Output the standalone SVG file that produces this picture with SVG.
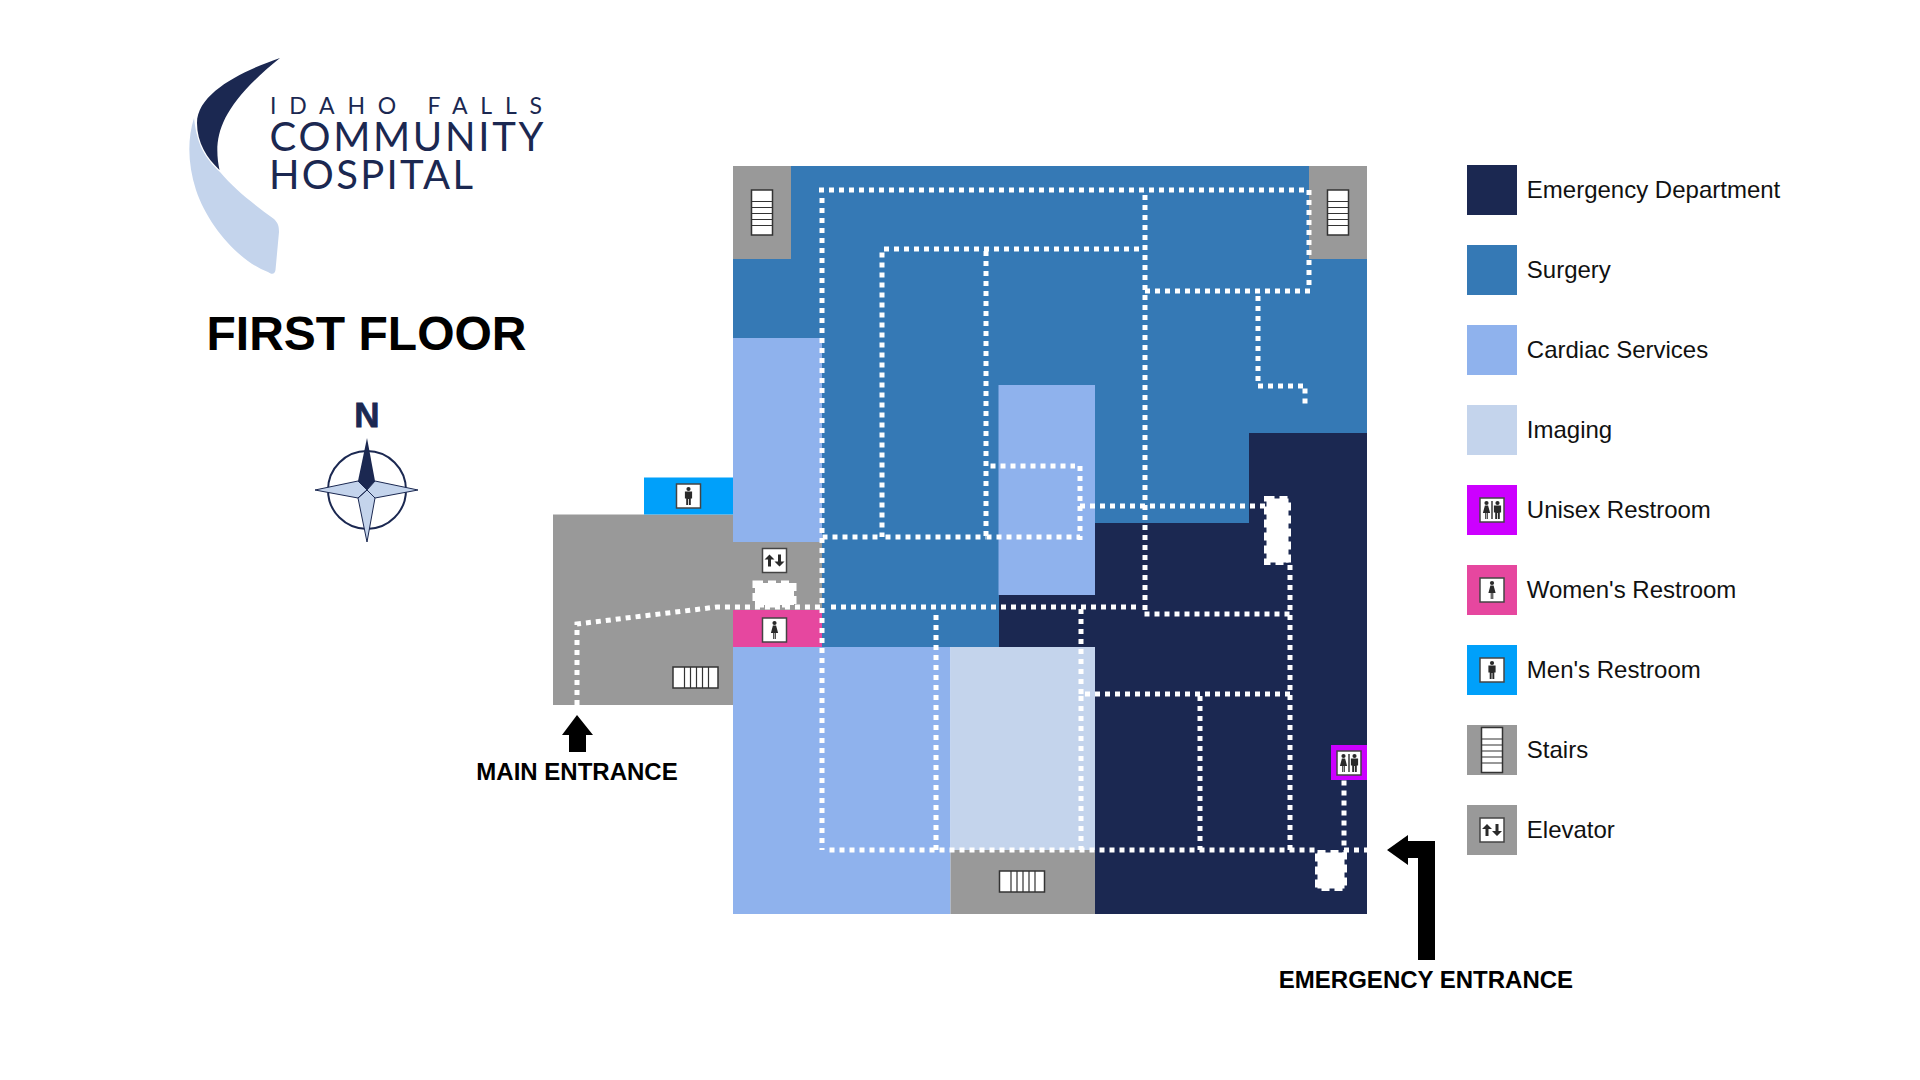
<svg xmlns="http://www.w3.org/2000/svg" xmlns:xlink="http://www.w3.org/1999/xlink" width="1920" height="1080" viewBox="0 0 1920 1080">
<style>
text{font-family:"Liberation Sans",Arial,sans-serif}
.ed{fill:#1b2851}.su{fill:#3579b5}.ca{fill:#8fb2ed}.im{fill:#c4d4ec}.un{fill:#cc00ff}.wo{fill:#e6479f}.me{fill:#00a0fa}.gr{fill:#999999}
.fr{fill:#fff;stroke:#444;stroke-width:1.5}
.st{fill:none;stroke:#333;stroke-width:1.2}
.fig{fill:#2a2a2a}
.dot{fill:none;stroke:#fff;stroke-width:5;stroke-dasharray:5 5}
.box{fill:#fff;stroke:#fff;stroke-width:5;stroke-dasharray:8 5}
.lab{font-size:24px;fill:#111}
.ent{font-size:24px;font-weight:700;fill:#000;text-anchor:middle}
.logo{font-family:Lato,"Liberation Sans",sans-serif;fill:#1b2851}
.star{fill:#c4d4ec;stroke:#1b2851;stroke-width:1}
</style>
<defs>
<g id="man"><circle cx="0" cy="-7" r="2.1"/><path d="M-3.6-4.4H3.6V2.6H2.3V9H.4V3H-.4V9H-2.3V2.6H-3.6Z"/></g>
<g id="woman"><circle cx="0" cy="-7" r="2.1"/><path d="M-1.6-4.4H1.6L3.6 3H1.3V9H.3V3H-.3V9H-1.3V3H-3.6Z"/></g>
<g id="i-man"><rect class="fr" x="-12" y="-12" width="24" height="24"/><use xlink:href="#man" href="#man" class="fig"/></g>
<g id="i-woman"><rect class="fr" x="-12" y="-12" width="24" height="24"/><use xlink:href="#woman" href="#woman" class="fig"/></g>
<g id="i-unisex"><rect class="fr" x="-12" y="-12" width="24" height="24"/><use xlink:href="#woman" href="#woman" x="-5.500" class="fig"/><use xlink:href="#man" href="#man" x="5.500" class="fig"/><rect x="-.7" y="-9" width="1.400" height="18" class="fig"/></g>
<g id="i-elev"><rect class="fr" x="-12" y="-12" width="24" height="24"/><path class="fig" d="M-5-6L-10-1H-6.500V6H-3.500V-1H0ZM5 6L0 1H3.500V-6H6.500V1H10Z"/></g>
<g id="i-stv"><rect x="-10.500" y="-22.500" width="21" height="45" fill="#fff" stroke="#333" stroke-width="1.500"/><path class="st" d="M-10.500-11H10.500M-10.500-5H10.500M-10.500 1H10.500M-10.500 7H10.500M-10.500 13H10.500"/></g>
<g id="i-sth"><rect x="-22.500" y="-10.500" width="45" height="21" fill="#fff" stroke="#333" stroke-width="1.500"/><path class="st" d="M-11-10.500V10.500M-5-10.500V10.500M1-10.500V10.500M7-10.500V10.500M13-10.500V10.500"/></g>
</defs>
<rect width="1920" height="1080" fill="#fff"/>

<g id="logo">
<path fill="#c4d4ec" d="M194 118C187 140 188 165 196 190C208 226 240 262 268 272C272 275 275 274 275.500 270L279 232C279 226 278 223 274 219C255 205 235 190 220 172C205 158 197 145 194 118Z"/>
<path fill="#1b2851" d="M280 58C245 70 197 92 197 123C197 143 207 158 219.500 170C213 138 218 108 280 58Z"/>
<text class="logo" x="270" y="113.500" font-size="23" textLength="272" lengthAdjust="spacing">IDAHO FALLS</text>
<text class="logo" x="269.500" y="151" font-size="40" textLength="274" lengthAdjust="spacing">COMMUNITY</text>
<text class="logo" x="269" y="189" font-size="40" textLength="204" lengthAdjust="spacing">HOSPITAL</text>
</g>

<text x="206.500" y="350" font-size="48" font-weight="700" fill="#000">FIRST FLOOR</text>

<g id="compass">
<text x="367" y="427" font-size="35" font-weight="700" text-anchor="middle" fill="#1b2851" stroke="#1b2851" stroke-width=".8">N</text>
<circle cx="367" cy="490" r="39" fill="#fff" stroke="#1b2851" stroke-width="2"/>
<path class="star" d="M315 490L358 481L367 490L358 498ZM418 490L375 481L367 490L375 498ZM367 542L358 498L367 490L375 498Z"/>
<path fill="#1b2851" d="M367 438L375 481L367 490L358 481Z"/>
</g>

<g id="floor-plan">
<rect id="surgery" class="su" x="733" y="166" width="634" height="481"/>
<path id="emergency" class="ed" d="M1249 433H1367V914H1095V647H999V595H1095V523H1249Z"/>
<rect id="stairs-nw" class="gr" x="733" y="166" width="58" height="93"/>
<rect id="stairs-ne" class="gr" x="1309" y="166" width="58" height="93"/>
<rect id="cardiac-west" class="ca" x="733" y="338" width="89" height="204"/>
<rect id="cardiac-center" class="ca" x="998.500" y="385" width="96.500" height="210"/>
<rect id="cardiac-south" class="ca" x="733" y="647" width="217.500" height="267"/>
<rect id="imaging" class="im" x="950.500" y="647" width="144.500" height="203"/>
<rect id="stairs-south" class="gr" x="950.500" y="850" width="144.500" height="64"/>
<rect id="lobby" class="gr" x="553" y="514.500" width="180" height="190.500"/>
<rect id="elevator" class="gr" x="733" y="542" width="89" height="68"/>
<rect id="womens" class="wo" x="733" y="610" width="89" height="37"/>
<rect id="mens" class="me" x="644" y="477.500" width="89" height="37"/>
<rect id="unisex" class="un" x="1331" y="745" width="36" height="35"/>
</g>

<g id="connectors">
<path class="dot" d="M819 190H1304"/>
<path class="dot" d="M1309 190V285"/>
<path class="dot" d="M1310 291H1145"/>
<path class="dot" d="M1145 195V612"/>
<path class="dot" d="M1258 296V381"/>
<path class="dot" d="M1258 386H1303"/>
<path class="dot" d="M1305 388.500V404"/>
<path class="dot" d="M822 198V850"/>
<path class="dot" d="M884 249H1140"/>
<path class="dot" d="M882 252.500V537"/>
<path class="dot" d="M986 251V537"/>
<path class="dot" d="M822.500 537H882"/>
<path class="dot" d="M885.500 537H986"/>
<path class="dot" d="M986.500 537H1080"/>
<path class="dot" d="M1080 466V540"/>
<path class="dot" d="M990.500 466H1075"/>
<path class="dot" d="M1080 506H1265"/>
<path class="dot" d="M577 705V624L717 607H822"/>
<path class="dot" d="M831 607H1141"/>
<path class="dot" d="M936 615V850"/>
<path class="dot" d="M1081 609V694"/>
<path class="dot" d="M1081 696V850"/>
<path class="dot" d="M829.500 850H1315"/>
<path class="dot" d="M1344 850H1367"/>
<path class="dot" d="M1144.500 614H1290"/>
<path class="dot" d="M1085 694H1290"/>
<path class="dot" d="M1200 696V850"/>
<path class="dot" d="M1290 565V850"/>
<path class="dot" d="M1344 780.500V846"/>
</g>

<g id="elevator-lobbies">
<rect class="box" x="755" y="583" width="39" height="22"/>
<rect class="box" x="1266.500" y="498.500" width="22" height="64"/>
<rect class="box" x="1317.500" y="852.500" width="27" height="36"/>
</g>

<g id="icons">
<use xlink:href="#i-stv" href="#i-stv" x="762" y="212.500"/>
<use xlink:href="#i-stv" href="#i-stv" x="1338" y="212.500"/>
<use xlink:href="#i-sth" href="#i-sth" x="695.500" y="677.500"/>
<use xlink:href="#i-sth" href="#i-sth" x="1022" y="881.500"/>
<use xlink:href="#i-man" href="#i-man" x="688.500" y="496"/>
<use xlink:href="#i-elev" href="#i-elev" x="774.500" y="560.500"/>
<use xlink:href="#i-woman" href="#i-woman" x="774.500" y="630"/>
<use xlink:href="#i-unisex" href="#i-unisex" x="1349" y="763"/>
</g>

<g id="main-entrance">
<path fill="#000" d="M577 715L593 735H586V752H569V735H562Z"/>
<text class="ent" x="577" y="780">MAIN ENTRANCE</text>
</g>
<g id="emergency-entrance">
<path fill="#000" d="M1387 850L1408 835V841H1435V960H1418V858H1408V865Z"/>
<text class="ent" x="1426" y="988">EMERGENCY ENTRANCE</text>
</g>

<g id="legend">
<rect class="ed" x="1467" y="165" width="50" height="50"/><text class="lab" x="1526.800" y="197.500">Emergency Department</text>
<rect class="su" x="1467" y="245" width="50" height="50"/><text class="lab" x="1526.800" y="277.500">Surgery</text>
<rect class="ca" x="1467" y="325" width="50" height="50"/><text class="lab" x="1526.800" y="357.500">Cardiac Services</text>
<rect class="im" x="1467" y="405" width="50" height="50"/><text class="lab" x="1526.800" y="437.500">Imaging</text>
<rect class="un" x="1467" y="485" width="50" height="50"/><use xlink:href="#i-unisex" href="#i-unisex" x="1492" y="510"/><text class="lab" x="1526.800" y="517.500">Unisex Restroom</text>
<rect class="wo" x="1467" y="565" width="50" height="50"/><use xlink:href="#i-woman" href="#i-woman" x="1492" y="590"/><text class="lab" x="1526.800" y="597.500">Women's Restroom</text>
<rect class="me" x="1467" y="645" width="50" height="50"/><use xlink:href="#i-man" href="#i-man" x="1492" y="670"/><text class="lab" x="1526.800" y="677.500">Men's Restroom</text>
<rect class="gr" x="1467" y="725" width="50" height="50"/><use xlink:href="#i-stv" href="#i-stv" x="1492" y="750"/><text class="lab" x="1526.800" y="757.500">Stairs</text>
<rect class="gr" x="1467" y="805" width="50" height="50"/><use xlink:href="#i-elev" href="#i-elev" x="1492" y="830"/><text class="lab" x="1526.800" y="837.500">Elevator</text>
</g>
</svg>
